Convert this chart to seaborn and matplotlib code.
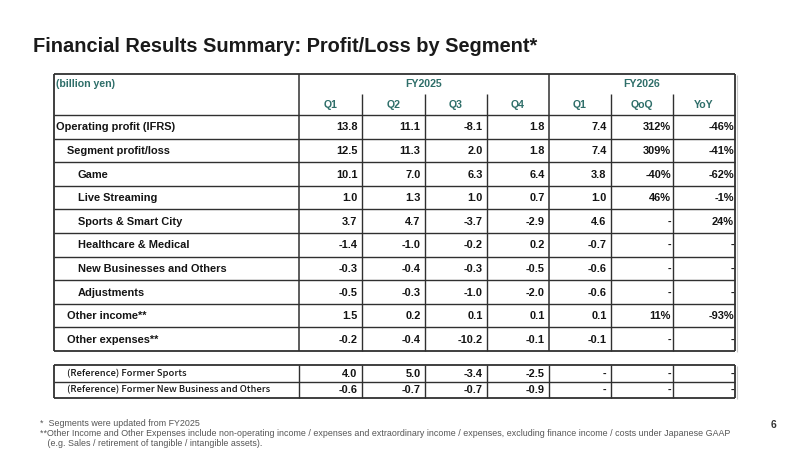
import seaborn as sns
import matplotlib.pyplot as plt

# data
row_labels = ["Operating profit (IFRS)", "Segment profit/loss", "Game", "Live Streaming",
              "Sports & Smart City", "Healthcare & Medical", "New Businesses and Others",
              "Adjustments", "Other income**", "Other expenses**"]
row_level = [0, 1, 2, 2, 2, 2, 2, 2, 1, 1]
fy25_q1 = [13.8, 12.5, 10.1, 1.0, 3.7, -1.4, -0.3, -0.5, 1.5, -0.2]
fy25_q2 = [11.1, 11.3, 7.0, 1.3, 4.7, -1.0, -0.4, -0.3, 0.2, -0.4]
fy25_q3 = [-8.1, 2.0, 6.3, 1.0, -3.7, -0.2, -0.3, -1.0, 0.1, -10.2]
fy25_q4 = [1.8, 1.8, 6.4, 0.7, -2.9, 0.2, -0.5, -2.0, 0.1, -0.1]
fy26_q1 = [7.4, 7.4, 3.8, 1.0, 4.6, -0.7, -0.6, -0.6, 0.1, -0.1]
qoq = ["312%", "309%", "-40%", "46%", "-", "-", "-", "-", "11%", "-"]
yoy = ["-46%", "-41%", "-62%", "-1%", "24%", "-", "-", "-", "-93%", "-"]

ref_labels = ["(Reference) Former Sports", "(Reference) Former New Business and Others"]
ref_q1 = [4.0, -0.6]
ref_q2 = [5.0, -0.7]
ref_q3 = [-3.4, -0.7]
ref_q4 = [-2.5, -0.9]

sub_headers = ["Q1", "Q2", "Q3", "Q4", "Q1", "QoQ", "YoY"]
year_headers = ["FY2025", "FY2026"]

title = "Financial Results Summary: Profit/Loss by Segment*"
notes = ["*  Segments were updated from FY2025",
         "**Other Income and Other Expenses include non-operating income / expenses and extraordinary income / expenses, excluding finance income / costs under Japanese GAAP",
         "   (e.g. Sales / retirement of tangible / intangible assets)."]

sns.set_theme(style="white")
plt.rcParams["font.family"] = ["Liberation Sans", "DejaVu Sans"]

teal = "#2E6E69"
ink = "#141414"
line_c = "#303030"
fs = 7.9

fig = plt.figure(figsize=(8, 4.5), dpi=100)
ax = fig.add_axes([0, 0, 1, 1])
ax.set_xlim(0, 800)
ax.set_ylim(450, 0)
ax.axis("off")

ax.text(33, 46, title, fontsize=14.4, fontweight="bold", color="#1a1a1a", va="center", ha="left")

# table grid
col_x = [54, 299, 362, 425, 487, 549, 611, 673, 735]
top, mid_hdr, hdr_bot = 74, 94, 115
row_h = (351 - hdr_bot) / len(row_labels)
row_y = [hdr_bot + i * row_h for i in range(len(row_labels) + 1)]
bottom = row_y[-1]

ax.hlines([top, bottom], col_x[0], col_x[-1], color=line_c, lw=1.3)
ax.hlines(row_y[:-1], col_x[0], col_x[-1], color=line_c, lw=1.0)
ax.vlines([col_x[0], col_x[-1]], top, bottom, color=line_c, lw=1.3)
ax.vlines([col_x[1], col_x[5]], top, bottom, color=line_c, lw=1.1)
ax.vlines([col_x[i] for i in (2, 3, 4, 6, 7)], mid_hdr, bottom, color=line_c, lw=1.0)
# faint shadow
ax.vlines(col_x[-1] + 2, top + 1, bottom + 1, color="#c8c8c8", lw=0.8)

# header text
ax.text(col_x[0] + 2, (top + mid_hdr) / 2, "(billion yen)", color=teal, fontsize=7.6,
        fontweight="bold", va="center", ha="left")
ax.text((col_x[1] + col_x[5]) / 2, (top + mid_hdr) / 2, year_headers[0], color=teal,
        fontsize=7.6, fontweight="bold", va="center", ha="center")
ax.text((col_x[5] + col_x[8]) / 2, (top + mid_hdr) / 2, year_headers[1], color=teal,
        fontsize=7.6, fontweight="bold", va="center", ha="center")
for i, h in enumerate(sub_headers):
    ax.text((col_x[i + 1] + col_x[i + 2]) / 2, (mid_hdr + hdr_bot) / 2 + 1, h, color=teal,
            fontsize=7.6, fontweight="bold", va="center", ha="center")

# body
indent_x = [56, 67, 78]
cols = [fy25_q1, fy25_q2, fy25_q3, fy25_q4, fy26_q1]
pads = [4.5, 4.5, 4.5, 4.5, 4.5, 2, 1]
for r, label in enumerate(row_labels):
    yc = (row_y[r] + row_y[r + 1]) / 2 + 0.5
    ax.text(indent_x[row_level[r]], yc, label, fontsize=fs, fontweight="bold", color=ink,
            va="center", ha="left")
    cells = [f"{c[r]:.1f}" for c in cols] + [qoq[r], yoy[r]]
    for j, s in enumerate(cells):
        ax.text(col_x[j + 2] - pads[j], yc, s, fontsize=fs, fontweight="bold", color=ink,
                va="center", ha="right")

# reference table
ref_top, ref_bot = 365, 398
ref_y = [ref_top, (ref_top + ref_bot) / 2, ref_bot]
ax.hlines([ref_top, ref_bot], col_x[0], col_x[-1], color=line_c, lw=1.3)
ax.hlines(ref_y[1], col_x[0], col_x[-1], color=line_c, lw=1.0)
ax.vlines([col_x[0], col_x[-1]], ref_top, ref_bot, color=line_c, lw=1.3)
ax.vlines(col_x[1:-1], ref_top, ref_bot, color=line_c, lw=1.0)
ax.vlines(col_x[-1] + 2, ref_top + 1, ref_bot + 1, color="#c8c8c8", lw=0.8)
ref_cols = [ref_q1, ref_q2, ref_q3, ref_q4]
for r, label in enumerate(ref_labels):
    yc = (ref_y[r] + ref_y[r + 1]) / 2
    ax.text(67, yc, label, fontsize=6.75, color=ink, va="center", ha="left",
            family=["Noto Sans CJK JP", "DejaVu Sans"], fontweight="medium")
    cells = [f"{c[r]:.1f}" for c in ref_cols] + ["-", "-", "-"]
    for j, s in enumerate(cells):
        ax.text(col_x[j + 2] - pads[j], yc + 0.5, s, fontsize=fs, fontweight="bold",
                color=ink, va="center", ha="right")

# footnotes
for i, n in enumerate(notes):
    ax.text(40, 423 + i * 10, n, fontsize=6.4, color="#555555", va="center", ha="left")
ax.text(776, 425, "6", fontsize=7.5, fontweight="bold", color="#333333", va="center", ha="right")

fig.savefig("out.png", dpi=100)
